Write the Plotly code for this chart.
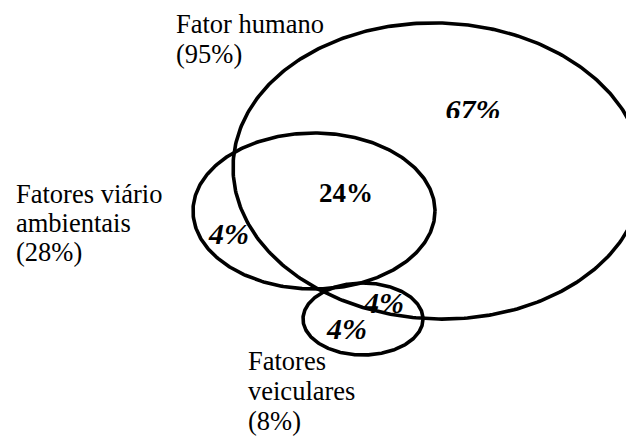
import numpy as np
import plotly.graph_objects as go

# Sets (ellipse geometry in chart units = pixels of the 626x437 canvas)
set_names = ["Fator humano", "Fatores viário ambientais", "Fatores veiculares"]
set_cx = [438, 314, 363]
set_cy = [171, 211, 319]
set_rx = [205, 121, 60]
set_ry = [148, 78, 36]
set_tilt_deg = [2, 0, 0]

# Set labels (lines, left x, baseline y)
label_lines = [["Fator humano", "(95%)"],
               ["Fatores viário", "ambientais", "(28%)"],
               ["Fatores", "veiculares", "(8%)"]]
label_x = [174, 14, 246]
label_baseline = [33, 203, 370]
label_pitch = [30, 29, 30]

# Region percentages
region_values = ["67%", "24%", "4%", "4%", "4%"]
region_x = [473, 346, 229, 384, 347]
region_y = [112, 195, 236, 305, 331]
region_italic = [True, False, True, True, True]

FONT = "'Times New Roman', 'Liberation Serif', 'DejaVu Serif', serif"
LBL_SIZE = 26.5
VAL_SIZE = 27
VAL_SIZE_IT = 30

fig = go.Figure()

t = np.linspace(0, 2 * np.pi, 400)
for name, cx, cy, rx, ry, tilt in zip(set_names, set_cx, set_cy, set_rx, set_ry, set_tilt_deg):
    a = np.deg2rad(tilt)
    ex = rx * np.cos(t)
    ey = ry * np.sin(t)
    xs = cx + ex * np.cos(a) - ey * np.sin(a)
    ys = cy + ex * np.sin(a) + ey * np.cos(a)
    fig.add_trace(go.Scatter(x=xs, y=ys, mode="lines", name=name,
                             line=dict(color="black", width=3.6),
                             hoverinfo="skip", showlegend=False))

# region values as text traces
for v, x, y, it in zip(region_values, region_x, region_y, region_italic):
    txt = f"<b><i>{v}</i></b>" if it else f"<b>{v}</b>"
    fig.add_trace(go.Scatter(x=[x], y=[y], mode="text", text=[txt],
                             textposition="middle center",
                             textfont=dict(family=FONT, size=VAL_SIZE_IT if it else VAL_SIZE,
                                           color="black"),
                             hoverinfo="skip", showlegend=False))

# set labels
annotations = []
for lines, x0, b0, p in zip(label_lines, label_x, label_baseline, label_pitch):
    for i, line in enumerate(lines):
        base = b0 + i * p
        annotations.append(dict(x=x0, y=base - 0.34 * LBL_SIZE, xref="x", yref="y",
                                text=line, showarrow=False, xanchor="left",
                                yanchor="middle",
                                font=dict(family=FONT, size=LBL_SIZE, color="black")))

shapes = [dict(type="rect", x0=438, x1=512, y0=118, y1=130, xref="x", yref="y",
               fillcolor="white", line=dict(width=0), layer="above")]

fig.update_layout(
    width=626, height=437,
    margin=dict(l=0, r=0, t=0, b=0),
    paper_bgcolor="white", plot_bgcolor="white",
    font=dict(family=FONT),
    xaxis=dict(range=[0, 626], visible=False, fixedrange=True),
    yaxis=dict(range=[437, 0], visible=False, fixedrange=True),
    annotations=annotations,
    shapes=shapes,
    showlegend=False,
)

fig.write_html("out.html",
               config={"displayModeBar": False, "staticPlot": True},
               post_script="document.body.style.margin='0';document.body.style.overflow='hidden';")
